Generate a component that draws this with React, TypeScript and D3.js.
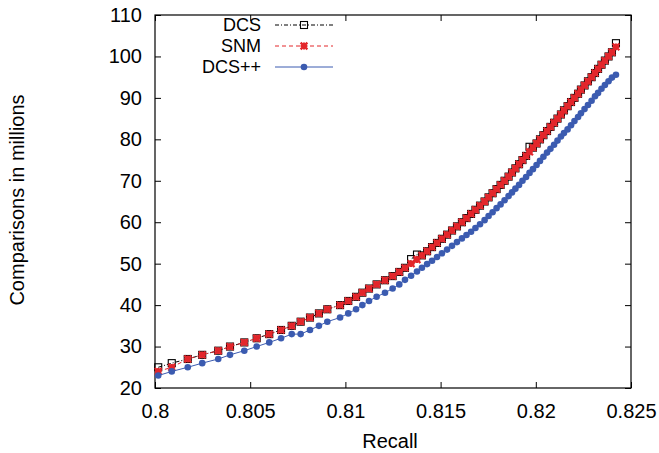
import {useEffect, useRef} from "react";
import * as d3 from "d3";

// recall is shared by all three runs (same window sizes)
const recall = [
  0.80017, 0.80088, 0.80172, 0.80248, 0.80332, 0.80394, 0.80469, 0.80534, 0.80600, 0.80662,
  0.80718, 0.80765, 0.80814, 0.80861, 0.80905, 0.80972, 0.81015, 0.81056, 0.81089, 0.81124,
  0.81164, 0.81208, 0.81248, 0.81283, 0.81313, 0.81345, 0.81376, 0.81402, 0.81429, 0.81455,
  0.81481, 0.81507, 0.81534, 0.81560, 0.81586, 0.81612, 0.81636, 0.81660, 0.81683, 0.81707,
  0.81731, 0.81752, 0.81773, 0.81794, 0.81815, 0.81836, 0.81857, 0.81875, 0.81893, 0.81912,
  0.81930, 0.81949, 0.81967, 0.81985, 0.82004, 0.82022, 0.82040, 0.82059, 0.82077, 0.82096,
  0.82114, 0.82132, 0.82148, 0.82167, 0.82185, 0.82203, 0.82222, 0.82237, 0.82256, 0.82274,
  0.82293, 0.82311, 0.82327, 0.82345, 0.82363, 0.82382, 0.82400, 0.82421,
];

// comparisons in millions
const dcs = [
  25, 26, 27, 28, 29, 30, 31, 32, 33, 34,
  35, 36, 37, 38, 39, 40, 41, 42, 43, 44,
  45, 46, 47, 48, 49, 51.1, 52.2, 52, 53, 54,
  55, 56, 57, 58, 59, 60, 61, 62, 63, 64,
  65, 66, 67, 68, 69, 70, 71, 72, 73, 74,
  75, 76, 78.2, 78, 79, 80, 81, 82, 83, 84,
  85, 86, 87, 88, 89, 90, 91, 92, 93, 94,
  95, 96, 97, 98, 99, 100, 101, 103.2,
];

const snm = [
  24, 25, 27, 28, 29, 30, 31, 32, 33, 34,
  35, 36, 37, 38, 39, 40, 41, 42, 43, 44,
  45, 46, 47, 48, 49, 50, 51, 52, 53, 54,
  55, 56, 57, 58, 59, 60, 61, 62, 63, 64,
  65, 66, 67, 68, 69, 70, 71, 72, 73, 74,
  75, 76, 77, 78, 79, 80, 81, 82, 83, 84,
  85, 86, 87, 88, 89, 90, 91, 92, 93, 94,
  95, 96, 97, 98, 99, 100, 101, 102.3,
];

const dcsPP = [
  23, 24, 25, 26, 27, 28, 29, 30, 31, 32,
  33, 33, 34, 35, 36, 37, 38, 39, 40, 41,
  42, 43, 44, 45, 46.1, 47.1, 48.1, 49, 49.9, 50.7,
  51.6, 52.5, 53.4, 54.3, 55.2, 56.1, 56.9, 57.7, 58.6, 59.5,
  60.5, 61.5, 62.4, 63.4, 64.3, 65.3, 66.3, 67.2, 68.1, 69,
  70, 70.9, 71.9, 72.8, 73.8, 74.8, 75.8, 76.8, 77.7, 78.7,
  79.7, 80.7, 81.5, 82.4, 83.4, 84.4, 85.4, 86.3, 87.3, 88.3,
  89.3, 90.4, 91.2, 92.2, 93.1, 94, 94.9, 95.6,
];

const xTicks = [0.8, 0.805, 0.81, 0.815, 0.82, 0.825];
const yTicks = [20, 30, 40, 50, 60, 70, 80, 90, 100, 110];

const series = [
  {name: "DCS", values: dcs, color: "#000000", dash: "4,2,1,2", marker: "square"},
  {name: "SNM", values: snm, color: "#e3262b", dash: "4,3", marker: "star"},
  {name: "DCS++", values: dcsPP, color: "#3b5bb0", dash: null, marker: "circle"},
];

const FONT = "'Liberation Sans', Arial, Helvetica, sans-serif";

const App = () => {
  const ref = useRef<SVGSVGElement | null>(null);

  useEffect(() => {
    const svg = d3.select(ref.current);
    svg.selectAll("*").remove();

    const margin = {top: 15, right: 28, bottom: 65, left: 155};
    const W = 659, H = 453;
    const x = d3.scaleLinear().domain([0.8, 0.825]).range([margin.left, W - margin.right]);
    const y = d3.scaleLinear().domain([20, 110]).range([H - margin.bottom, margin.top]);

    const fmt = d3.format("");

    // axes, gnuplot style: ticks inside on all four sides
    const gx = svg.append("g").attr("transform", `translate(0,${y(20)})`)
      .call(d3.axisBottom(x).tickValues(xTicks).tickFormat(d => fmt(d as number)).tickSizeInner(-6).tickSizeOuter(0).tickPadding(16));
    const gy = svg.append("g").attr("transform", `translate(${x(0.8)},0)`)
      .call(d3.axisLeft(y).tickValues(yTicks).tickSizeInner(-6).tickSizeOuter(0).tickPadding(13));
    const gt = svg.append("g").attr("transform", `translate(0,${y(110)})`)
      .call(d3.axisTop(x).tickValues(xTicks).tickFormat(() => "").tickSizeInner(-6).tickSizeOuter(0));
    const gr = svg.append("g").attr("transform", `translate(${x(0.825)},0)`)
      .call(d3.axisRight(y).tickValues(yTicks).tickFormat(() => "").tickSizeInner(-6).tickSizeOuter(0));
    [gx, gy, gt, gr].forEach(g => {
      g.select(".domain").remove();
      g.selectAll("line").attr("stroke", "#000");
      g.selectAll("text").attr("font-family", FONT).attr("font-size", 20).attr("fill", "#000");
    });

    svg.append("rect")
      .attr("x", x(0.8)).attr("y", y(110))
      .attr("width", x(0.825) - x(0.8)).attr("height", y(20) - y(110))
      .attr("fill", "none").attr("stroke", "#000").attr("stroke-width", 1.2);

    svg.append("text").attr("x", (x(0.8) + x(0.825)) / 2 - 3).attr("y", 448)
      .attr("text-anchor", "middle").attr("font-family", FONT).attr("font-size", 20).text("Recall");
    svg.append("text").attr("transform", "translate(24,200) rotate(-90)")
      .attr("text-anchor", "middle").attr("font-family", FONT).attr("font-size", 20).text("Comparisons in millions");

    const drawMarker = (g: any, kind: string, color: string, cx: number, cy: number) => {
      if (kind === "square") {
        g.append("rect").attr("x", cx - 3.5).attr("y", cy - 3.5).attr("width", 7).attr("height", 7)
          .attr("fill", "none").attr("stroke", color).attr("stroke-width", 1.1);
      } else if (kind === "star") {
        const s = 3.4;
        const p = `M${cx - s},${cy}L${cx + s},${cy}M${cx},${cy - s}L${cx},${cy + s}` +
          `M${cx - s},${cy - s}L${cx + s},${cy + s}M${cx - s},${cy + s}L${cx + s},${cy - s}`;
        g.append("path").attr("d", p).attr("stroke", color).attr("stroke-width", 2.2).attr("fill", "none");
      } else {
        g.append("circle").attr("cx", cx).attr("cy", cy).attr("r", 3.3).attr("fill", color);
      }
    };

    const line = d3.line<number>().x((d, i) => x(recall[i])).y(d => y(d));

    series.forEach(s => {
      const g = svg.append("g");
      g.append("path").attr("d", line(s.values))
        .attr("fill", "none").attr("stroke", s.color).attr("stroke-width", 1)
        .attr("stroke-dasharray", s.dash);
      s.values.forEach((v, i) => drawMarker(g, s.marker, s.color, x(recall[i]), y(v)));
    });

    // legend
    const lg = svg.append("g");
    series.forEach((s, i) => {
      const ly = 25 + i * 21;
      lg.append("text").attr("x", 261).attr("y", ly).attr("dy", "0.35em")
        .attr("text-anchor", "end").attr("font-family", FONT).attr("font-size", 18).text(s.name);
      lg.append("line").attr("x1", 275).attr("x2", 333).attr("y1", ly).attr("y2", ly)
        .attr("stroke", s.color).attr("stroke-width", 1).attr("stroke-dasharray", s.dash);
      drawMarker(lg, s.marker, s.color, 304, ly);
    });
  }, []);

  return (
    <div>
      <svg ref={ref} width={659} height={453}
           style={{position: "absolute", left: 0, top: 0, background: "#fff"}}/>
    </div>
  );
};

export default App;
